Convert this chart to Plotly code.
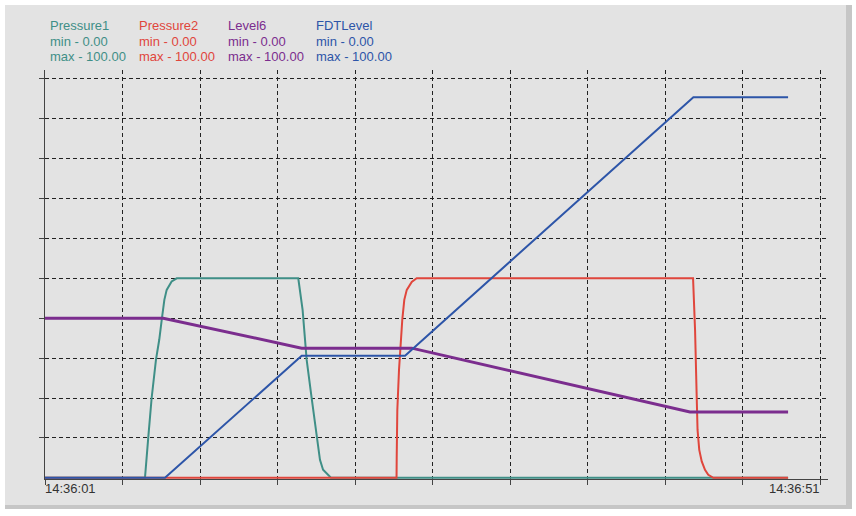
import plotly.graph_objects as go

# ---- data (seconds after 14:36:01, value in %) ----
series_names = ["Pressure1", "Pressure2", "Level6", "FDTLevel"]
series_colors = ["#3f8f87", "#e0463c", "#7b2d8e", "#2d55a8"]
series_widths = [2, 2, 3, 2]

p1_t = [0, 6.45, 6.66, 6.88, 7.16, 7.37, 7.53, 7.70, 7.85, 8.17, 8.50,
        16.34, 16.62, 16.88, 17.21, 17.53, 17.74, 17.94, 18.26, 18.45, 47.94]
p1_v = [0, 0, 10, 20, 29.6, 34.6, 39.6, 44.6, 47.1, 49.2, 50,
        50, 42.1, 29.6, 19.8, 9.8, 4.5, 2.0, 0.75, 0, 0]

p2_t = [0, 22.68, 22.69, 22.73, 22.84, 22.95, 23.05, 23.18, 23.34, 23.66, 23.98,
        41.81, 41.94, 42.05, 42.10, 42.21, 42.37, 42.58, 42.79, 43.12, 47.94]
p2_v = [0, 0, 5, 17, 27.1, 34.6, 39.6, 44.6, 47.1, 49.1, 50,
        50, 37, 19.5, 12, 7, 4.1, 2, 0.75, 0, 0]

l6_t = [0, 7.63, 16.56, 23.66, 41.61, 47.94]
l6_v = [40, 40, 32.5, 32.5, 16.5, 16.5]

fdt_t = [0, 7.74, 16.56, 23.23, 41.83, 47.94]
fdt_v = [0, 0, 30.6, 30.6, 95.4, 95.4]

series_t = [p1_t, p2_t, l6_t, fdt_t]
series_v = [p1_v, p2_v, l6_v, fdt_v]
series_min = ["0.00", "0.00", "0.00", "0.00"]
series_max = ["100.00", "100.00", "100.00", "100.00"]

time_labels = ["14:36:01", "14:36:51"]
time_label_pos = [0, 50]

# ---- figure ----
W, H = 856, 516
L, R, T, B = 45, 28, 70, 37
PW, PH = W - L - R, H - T - B
PXV = 3.99          # pixels per value unit
Y0 = -0.3           # tiny headroom so zero-valued lines are not clipped
FONT = "Liberation Sans, Arial, sans-serif"


def px_x(px):
    return (px - L) / PW


def px_y(py):
    return (H - B - py) / PH


fig = go.Figure()
for name, col, wd, tt, vv in zip(series_names, series_colors, series_widths, series_t, series_v):
    fig.add_trace(go.Scatter(x=tt, y=vv, mode="lines", name=name,
                             line=dict(color=col, width=wd), hoverinfo="skip"))

shapes = [
    # panel shadow (right & bottom)
    dict(type="rect", xref="paper", yref="paper", layer="below",
         x0=px_x(5), x1=px_x(852), y0=px_y(509), y1=px_y(5),
         fillcolor="#c6c6c6", line=dict(width=0)),
    # panel face
    dict(type="rect", xref="paper", yref="paper", layer="below",
         x0=px_x(5), x1=px_x(846), y0=px_y(505), y1=px_y(5),
         fillcolor="#e3e3e3", line=dict(width=0)),
]

annotations = []
col_x = [50, 139, 228, 316]
row_y = [25.5, 41, 56.5]
for i, name in enumerate(series_names):
    texts = [name, "min - " + series_min[i], "max - " + series_max[i]]
    for txt, yy in zip(texts, row_y):
        annotations.append(dict(xref="paper", yref="paper", x=px_x(col_x[i] - 2), y=px_y(yy),
                                xanchor="left", yanchor="middle", showarrow=False, text=txt,
                                font=dict(family=FONT, size=13, color=series_colors[i])))

for lbl, pos, anc in zip(time_labels, time_label_pos, ["left", "right"]):
    annotations.append(dict(xref="x", yref="paper", x=pos, y=px_y(488),
                            xanchor=anc, yanchor="middle", showarrow=False, text=lbl,
                            xshift=-2 if anc == "left" else 2,
                            font=dict(family=FONT, size=13, color="#333333")))

fig.update_layout(
    width=W, height=H,
    margin=dict(l=L, r=R, t=T, b=B, pad=0),
    paper_bgcolor="white",
    plot_bgcolor="rgba(0,0,0,0)",
    showlegend=False,
    shapes=shapes,
    annotations=annotations,
    font=dict(family=FONT, size=13),
)
fig.update_xaxes(range=[0, PW / 15.5], tickmode="array", tickvals=list(range(0, 51, 5)),
                 showticklabels=False, ticks="outside", ticklen=5, tickcolor="#444444",
                 showgrid=True, gridcolor="#222222", griddash="4px,3px", gridwidth=1,
                 zeroline=False, showline=True, linecolor="#444444", linewidth=1,
                 layer="below traces")
fig.update_yaxes(range=[Y0, Y0 + PH / PXV], tickmode="array", tickvals=list(range(10, 101, 10)),
                 showticklabels=False, ticks="outside", ticklen=5, tickcolor="#444444",
                 showgrid=True, gridcolor="#222222", griddash="4px,3px", gridwidth=1,
                 zeroline=False, showline=True, linecolor="#444444", linewidth=1,
                 layer="below traces")

fig.write_html("out.html", config={"displayModeBar": False},
               post_script="document.body.style.margin='0';document.body.style.overflow='hidden';")
